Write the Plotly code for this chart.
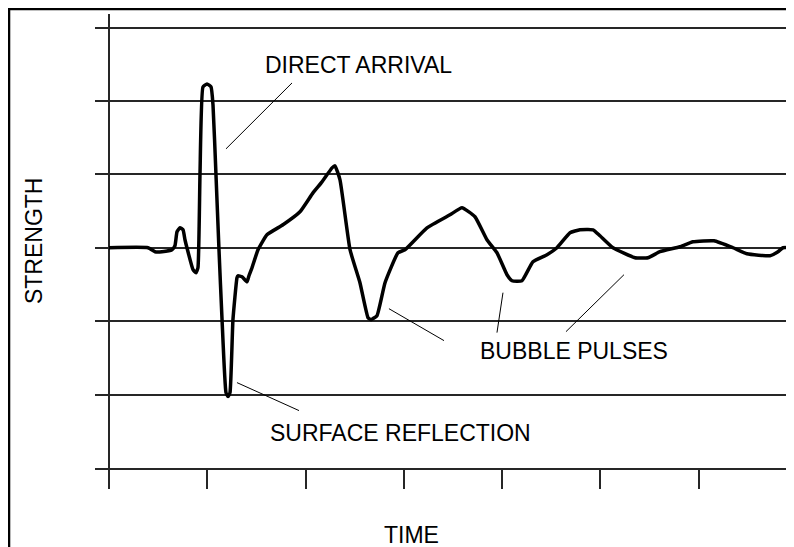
import plotly.graph_objects as go

# Signal trace (time in tick units, strength in grid units)
time = [0, 0.397, 0.468, 0.539, 0.641, 0.671, 0.692, 0.722, 0.753, 0.773, 0.793,
        0.855, 0.885, 0.905, 0.926, 0.956, 0.997, 1.038, 1.058, 1.088, 1.119,
        1.150, 1.190, 1.211, 1.231, 1.261, 1.302, 1.312, 1.353, 1.404, 1.424,
        1.455, 1.516, 1.607, 1.770, 1.943, 2.075, 2.167, 2.269, 2.299, 2.350,
        2.452, 2.553, 2.635, 2.665, 2.726, 2.808, 2.940, 3.011, 3.235, 3.469,
        3.591, 3.723, 3.845, 3.947, 4.049, 4.100, 4.201, 4.313, 4.456, 4.557,
        4.690, 4.791, 4.924, 4.995, 5.127, 5.351, 5.483, 5.605, 5.809, 5.941,
        6.155, 6.348, 6.490, 6.724, 6.806, 6.857, 6.928]
strength = [0, 0, -0.054, -0.054, -0.027, 0.027, 0.218, 0.272, 0.245, 0.109, 0,
            -0.299, -0.340, -0.272, 1.020, 2.190, 2.231, 2.190, 1.946, 1.007, -0.027,
            -0.980, -1.973, -2.027, -1.973, -0.980, -0.408, -0.381, -0.395, -0.463, -0.381,
            -0.272, -0.027, 0.177, 0.313, 0.490, 0.748, 0.898, 1.088, 1.116, 0.925,
            -0.027, -0.476, -0.952, -0.980, -0.925, -0.476, -0.068, -0.027, 0.272, 0.449,
            0.544, 0.422, 0.109, -0.068, -0.367, -0.449, -0.449, -0.190, -0.095, 0,
            0.204, 0.245, 0.245, 0.163, 0, -0.136, -0.136, -0.054, 0.014, 0.082,
            0.095, 0, -0.082, -0.109, -0.054, 0, 0]

x_ticks = [0, 1, 2, 3, 4, 5, 6]
y_grid = [-3, -2, -1, 0, 1, 2, 3]

labels = ["DIRECT ARRIVAL", "SURFACE REFLECTION", "BUBBLE PULSES"]
x_title = "TIME"
y_title = "STRENGTH"

FONT = "Liberation Sans, Arial, sans-serif"
GRID = "#262626"

fig = go.Figure()
fig.add_trace(go.Scatter(x=time, y=strength, mode="lines",
                         line=dict(color="black", width=3.5, shape="spline", smoothing=0.4),
                         hoverinfo="skip", showlegend=False))

# leader lines
leaders = [
    ((1.190, 1.347), (1.862, 2.245)),
    ((1.302, -1.837), (1.933, -2.218)),
    ((2.848, -0.830), (3.408, -1.265)),
    ((4.008, -0.612), (3.947, -1.156)),
    ((5.239, -0.367), (4.649, -1.143)),
]
shapes = []
for (x0, y0), (x1, y1) in leaders:
    shapes.append(dict(type="line", xref="x", yref="y", x0=x0, y0=y0, x1=x1, y1=y1,
                       line=dict(color="black", width=1)))
# outer frame (left and top edges)
shapes.append(dict(type="path", xref="paper", yref="paper",
                   path="M -0.1237 -0.2 L -0.1237 1.011 L 1.02 1.011",
                   line=dict(color="black", width=2.5)))

annotations = [
    dict(x=2.538, y=2.49, text=labels[0], xref="x", yref="y"),
    dict(x=2.970, y=-2.52, text=labels[1], xref="x", yref="y"),
    dict(x=4.730, y=-1.41, text=labels[2], xref="x", yref="y"),
    dict(x=0.4547, y=-0.1476, text=x_title, xref="paper", yref="paper"),
    dict(x=-0.0878, y=0.502, text=y_title, textangle=-90, xref="paper", yref="paper"),
]
for a in annotations:
    a.update(showarrow=False, xanchor="center", yanchor="middle",
             font=dict(family=FONT, size=23, color="black"))

fig.update_layout(
    width=786, height=539,
    margin=dict(l=87, r=4, t=6, b=79),
    paper_bgcolor="white", plot_bgcolor="white",
    shapes=shapes, annotations=annotations,
    xaxis=dict(range=[-0.1424, 6.928], tickvals=x_ticks, showticklabels=False,
               ticks="outside", ticklen=19, tickwidth=1.5, tickcolor=GRID,
               showgrid=False, zeroline=True, zerolinecolor=GRID, zerolinewidth=1.5,
               showline=True, linecolor=GRID, linewidth=1.5, fixedrange=True),
    yaxis=dict(range=[-3, 3.184], tickvals=y_grid, showticklabels=False,
               showgrid=True, gridcolor=GRID, gridwidth=1.5,
               zeroline=False, showline=False, ticks="", fixedrange=True),
)

fig.write_html("out.html")
